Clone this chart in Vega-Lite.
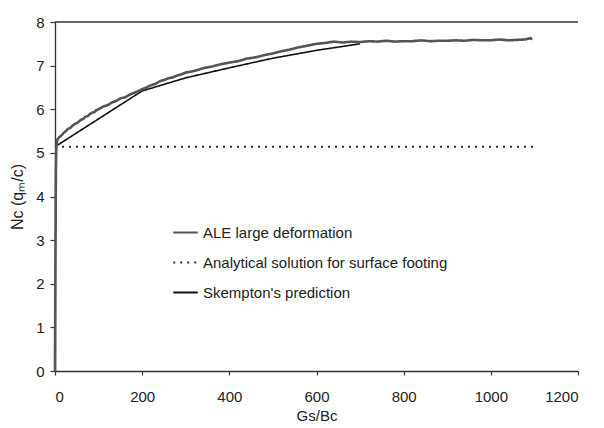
{
  "$schema": "https://vega.github.io/schema/vega-lite/v6.json",
  "width": 523,
  "height": 349,
  "autosize": {"type": "none"},
  "padding": {"left": 55, "top": 22, "right": 26, "bottom": 57},
  "background": "white",
  "config": {
    "view": {"stroke": null},
    "font": "Liberation Sans",
    "axis": {
      "grid": false,
      "domainColor": "#333",
      "domainWidth": 1.3,
      "tickColor": "#333",
      "tickWidth": 1.2,
      "labelColor": "#222",
      "labelFont": "Liberation Sans",
      "labelFontSize": 15,
      "titleColor": "#222",
      "titleFont": "Liberation Sans",
      "titleFontSize": 15,
      "titleFontWeight": "normal"
    }
  },
  "data": {
    "values": [
      {"series": "Skempton's prediction", "gs_bc": 0, "nc": 5.14},
      {"series": "Skempton's prediction", "gs_bc": 200, "nc": 6.42},
      {"series": "Skempton's prediction", "gs_bc": 300, "nc": 6.72},
      {"series": "Skempton's prediction", "gs_bc": 400, "nc": 6.95},
      {"series": "Skempton's prediction", "gs_bc": 500, "nc": 7.17},
      {"series": "Skempton's prediction", "gs_bc": 600, "nc": 7.35},
      {"series": "Skempton's prediction", "gs_bc": 700, "nc": 7.5},

      {"series": "Analytical solution for surface footing", "gs_bc": 0, "nc": 5.14},
      {"series": "Analytical solution for surface footing", "gs_bc": 1100, "nc": 5.14},

      {"series": "ALE large deformation", "gs_bc": 0, "nc": 0},
      {"series": "ALE large deformation", "gs_bc": 1, "nc": 2.5},
      {"series": "ALE large deformation", "gs_bc": 2, "nc": 4.6},
      {"series": "ALE large deformation", "gs_bc": 3, "nc": 5.1},
      {"series": "ALE large deformation", "gs_bc": 5, "nc": 5.3},
      {"series": "ALE large deformation", "gs_bc": 10, "nc": 5.36},
      {"series": "ALE large deformation", "gs_bc": 15, "nc": 5.4},
      {"series": "ALE large deformation", "gs_bc": 20, "nc": 5.46},
      {"series": "ALE large deformation", "gs_bc": 25, "nc": 5.5},
      {"series": "ALE large deformation", "gs_bc": 30, "nc": 5.55},
      {"series": "ALE large deformation", "gs_bc": 35, "nc": 5.57},
      {"series": "ALE large deformation", "gs_bc": 40, "nc": 5.62},
      {"series": "ALE large deformation", "gs_bc": 45, "nc": 5.66},
      {"series": "ALE large deformation", "gs_bc": 50, "nc": 5.68},
      {"series": "ALE large deformation", "gs_bc": 55, "nc": 5.72},
      {"series": "ALE large deformation", "gs_bc": 60, "nc": 5.76},
      {"series": "ALE large deformation", "gs_bc": 65, "nc": 5.78},
      {"series": "ALE large deformation", "gs_bc": 70, "nc": 5.83},
      {"series": "ALE large deformation", "gs_bc": 75, "nc": 5.84},
      {"series": "ALE large deformation", "gs_bc": 80, "nc": 5.89},
      {"series": "ALE large deformation", "gs_bc": 85, "nc": 5.92},
      {"series": "ALE large deformation", "gs_bc": 90, "nc": 5.93},
      {"series": "ALE large deformation", "gs_bc": 95, "nc": 5.98},
      {"series": "ALE large deformation", "gs_bc": 100, "nc": 6.0},
      {"series": "ALE large deformation", "gs_bc": 110, "nc": 6.06},
      {"series": "ALE large deformation", "gs_bc": 120, "nc": 6.09},
      {"series": "ALE large deformation", "gs_bc": 130, "nc": 6.15},
      {"series": "ALE large deformation", "gs_bc": 140, "nc": 6.19},
      {"series": "ALE large deformation", "gs_bc": 150, "nc": 6.25},
      {"series": "ALE large deformation", "gs_bc": 160, "nc": 6.27},
      {"series": "ALE large deformation", "gs_bc": 170, "nc": 6.33},
      {"series": "ALE large deformation", "gs_bc": 180, "nc": 6.37},
      {"series": "ALE large deformation", "gs_bc": 190, "nc": 6.41},
      {"series": "ALE large deformation", "gs_bc": 200, "nc": 6.46},
      {"series": "ALE large deformation", "gs_bc": 210, "nc": 6.5},
      {"series": "ALE large deformation", "gs_bc": 220, "nc": 6.55},
      {"series": "ALE large deformation", "gs_bc": 230, "nc": 6.58},
      {"series": "ALE large deformation", "gs_bc": 240, "nc": 6.64},
      {"series": "ALE large deformation", "gs_bc": 250, "nc": 6.67},
      {"series": "ALE large deformation", "gs_bc": 260, "nc": 6.71},
      {"series": "ALE large deformation", "gs_bc": 270, "nc": 6.73},
      {"series": "ALE large deformation", "gs_bc": 280, "nc": 6.77},
      {"series": "ALE large deformation", "gs_bc": 290, "nc": 6.8},
      {"series": "ALE large deformation", "gs_bc": 300, "nc": 6.84},
      {"series": "ALE large deformation", "gs_bc": 320, "nc": 6.88},
      {"series": "ALE large deformation", "gs_bc": 340, "nc": 6.94},
      {"series": "ALE large deformation", "gs_bc": 360, "nc": 6.98},
      {"series": "ALE large deformation", "gs_bc": 380, "nc": 7.03},
      {"series": "ALE large deformation", "gs_bc": 400, "nc": 7.07},
      {"series": "ALE large deformation", "gs_bc": 420, "nc": 7.1},
      {"series": "ALE large deformation", "gs_bc": 440, "nc": 7.16},
      {"series": "ALE large deformation", "gs_bc": 460, "nc": 7.19},
      {"series": "ALE large deformation", "gs_bc": 480, "nc": 7.24},
      {"series": "ALE large deformation", "gs_bc": 500, "nc": 7.28},
      {"series": "ALE large deformation", "gs_bc": 520, "nc": 7.33},
      {"series": "ALE large deformation", "gs_bc": 540, "nc": 7.37},
      {"series": "ALE large deformation", "gs_bc": 560, "nc": 7.42},
      {"series": "ALE large deformation", "gs_bc": 580, "nc": 7.46},
      {"series": "ALE large deformation", "gs_bc": 600, "nc": 7.5},
      {"series": "ALE large deformation", "gs_bc": 620, "nc": 7.52},
      {"series": "ALE large deformation", "gs_bc": 640, "nc": 7.55},
      {"series": "ALE large deformation", "gs_bc": 660, "nc": 7.53},
      {"series": "ALE large deformation", "gs_bc": 680, "nc": 7.55},
      {"series": "ALE large deformation", "gs_bc": 700, "nc": 7.54},
      {"series": "ALE large deformation", "gs_bc": 720, "nc": 7.56},
      {"series": "ALE large deformation", "gs_bc": 740, "nc": 7.55},
      {"series": "ALE large deformation", "gs_bc": 760, "nc": 7.57},
      {"series": "ALE large deformation", "gs_bc": 780, "nc": 7.55},
      {"series": "ALE large deformation", "gs_bc": 800, "nc": 7.56},
      {"series": "ALE large deformation", "gs_bc": 820, "nc": 7.56},
      {"series": "ALE large deformation", "gs_bc": 840, "nc": 7.58},
      {"series": "ALE large deformation", "gs_bc": 860, "nc": 7.56},
      {"series": "ALE large deformation", "gs_bc": 880, "nc": 7.57},
      {"series": "ALE large deformation", "gs_bc": 900, "nc": 7.57},
      {"series": "ALE large deformation", "gs_bc": 920, "nc": 7.58},
      {"series": "ALE large deformation", "gs_bc": 940, "nc": 7.57},
      {"series": "ALE large deformation", "gs_bc": 960, "nc": 7.59},
      {"series": "ALE large deformation", "gs_bc": 980, "nc": 7.58},
      {"series": "ALE large deformation", "gs_bc": 1000, "nc": 7.58},
      {"series": "ALE large deformation", "gs_bc": 1020, "nc": 7.6},
      {"series": "ALE large deformation", "gs_bc": 1040, "nc": 7.58},
      {"series": "ALE large deformation", "gs_bc": 1060, "nc": 7.59},
      {"series": "ALE large deformation", "gs_bc": 1080, "nc": 7.6},
      {"series": "ALE large deformation", "gs_bc": 1090, "nc": 7.63},
      {"series": "ALE large deformation", "gs_bc": 1095, "nc": 7.6}
    ]
  },
  "layer": [
    {
      "encoding": {
        "x": {
          "field": "gs_bc",
          "type": "quantitative",
          "scale": {"domain": [0, 1200], "nice": false},
          "axis": {
            "title": "Gs/Bc",
            "values": [0, 200, 400, 600, 800, 1000, 1200],
            "format": "d",
            "tickSize": 4,
            "labelPadding": 14,
            "titlePadding": 4
          }
        },
        "y": {
          "field": "nc",
          "type": "quantitative",
          "scale": {"domain": [0, 8], "nice": false},
          "axis": {
            "title": "Nc (qₘ/c)",
            "titleFontSize": 16,
            "values": [0, 1, 2, 3, 4, 5, 6, 7, 8],
            "tickSize": 5,
            "labelPadding": 6,
            "titlePadding": 10
          }
        },
        "color": {
          "field": "series",
          "type": "nominal",
          "scale": {
            "domain": ["ALE large deformation", "Analytical solution for surface footing", "Skempton's prediction"],
            "range": ["#555555", "#333333", "#111111"]
          },
          "legend": {
            "title": null,
            "orient": "none",
            "legendX": 117,
            "legendY": 197,
            "symbolType": "stroke",
            "symbolSize": 600,
            "symbolStrokeWidth": 1.8,
            "labelFont": "Liberation Sans",
            "labelFontSize": 15,
            "labelColor": "#222",
            "labelLimit": 0,
            "labelOffset": 4,
            "rowPadding": 8
          }
        },
        "strokeDash": {
          "field": "series",
          "type": "nominal",
          "scale": {
            "domain": ["ALE large deformation", "Analytical solution for surface footing", "Skempton's prediction"],
            "range": [[1, 0], [2, 5], [1, 0]]
          }
        }
      },
      "layer": [
        {
          "transform": [{"filter": "datum.series === \"Skempton's prediction\""}],
          "mark": {"type": "line", "strokeWidth": 1.6}
        },
        {
          "transform": [{"filter": "datum.series === 'Analytical solution for surface footing'"}],
          "mark": {"type": "line", "strokeWidth": 2}
        },
        {
          "transform": [{"filter": "datum.series === 'ALE large deformation'"}],
          "mark": {"type": "line", "strokeWidth": 2.6}
        }
      ]
    },
    {
      "data": {"values": [{}]},
      "mark": {"type": "rule", "color": "#333", "strokeWidth": 1.3},
      "encoding": {"y": {"datum": 8}}
    }
  ]
}
